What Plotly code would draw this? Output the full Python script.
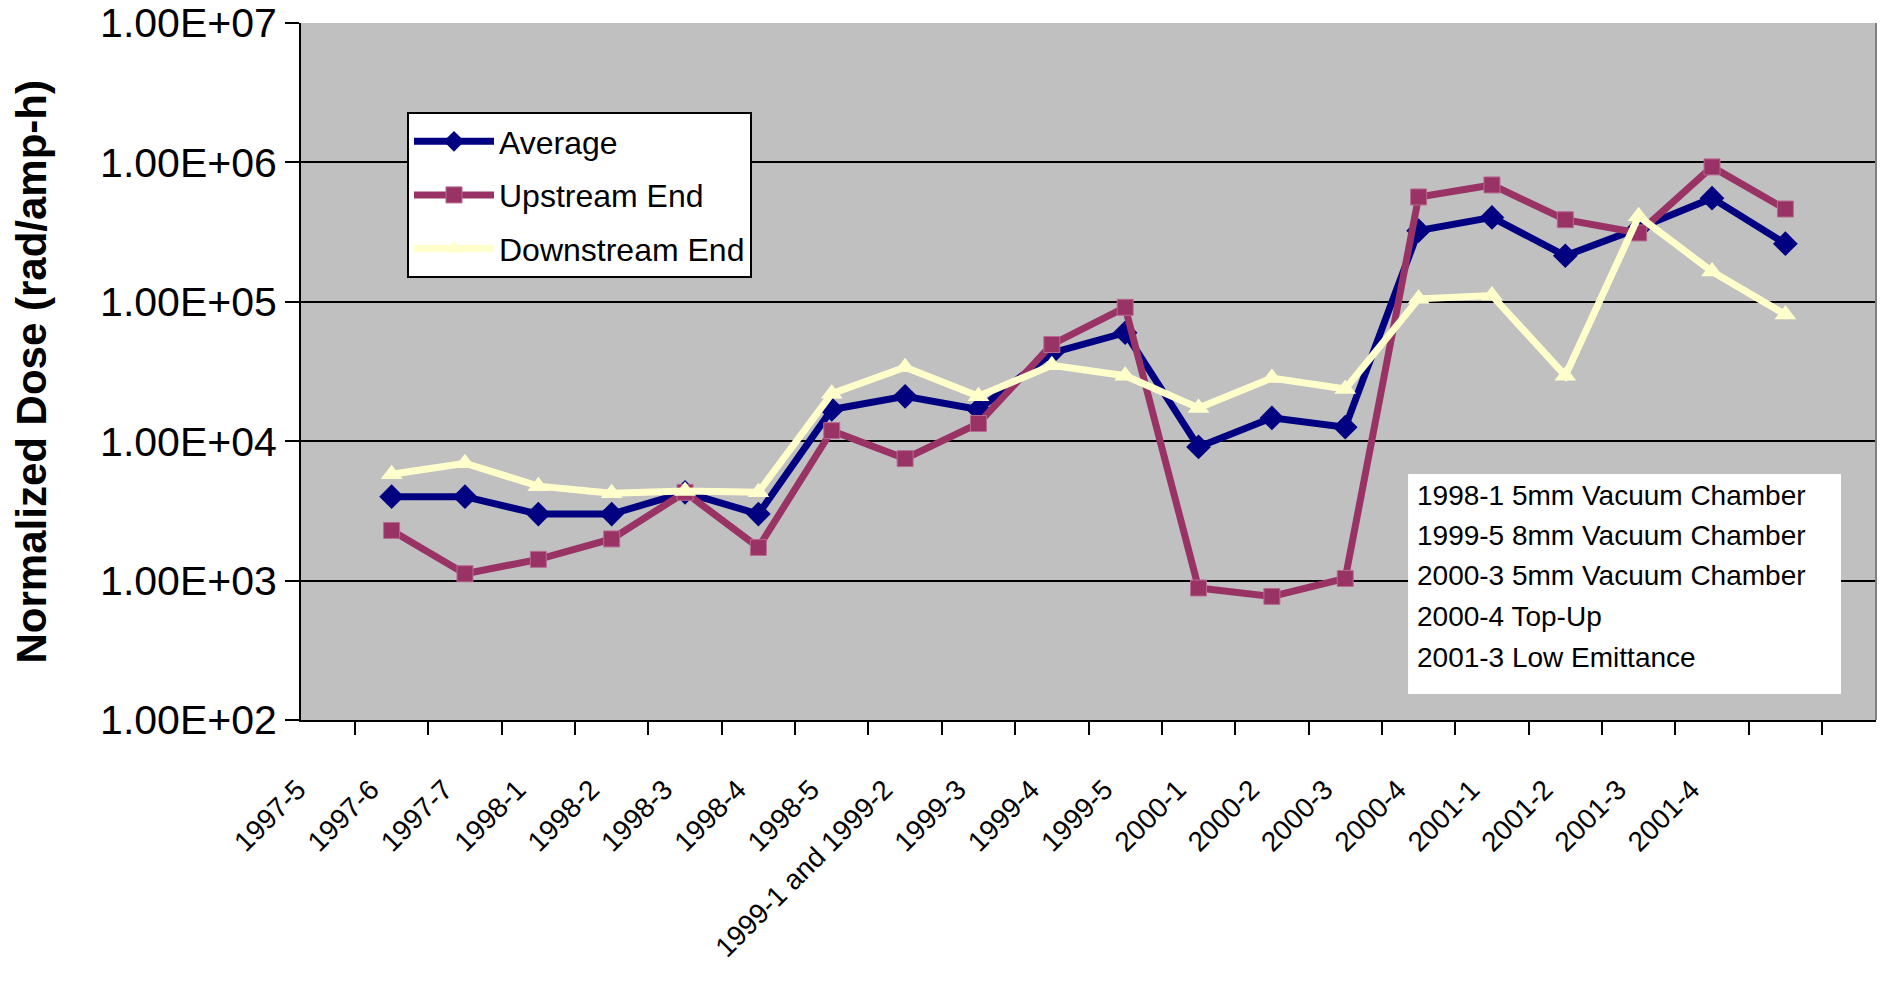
import plotly.graph_objects as go

categories = ["1997-5", "1997-6", "1997-7", "1998-1", "1998-2", "1998-3", "1998-4",
              "1998-5", "1999-1 and 1999-2", "1999-3", "1999-4", "1999-5", "2000-1",
              "2000-2", "2000-3", "2000-4", "2001-1", "2001-2", "2001-3", "2001-4"]

average = [4000, 4000, 3000, 3000, 4300, 3000, 16900, 21000, 16900, 43000, 60000,
           9100, 14700, 12600, 324000, 403000, 214000, 337000, 554000, 261000]
upstream = [2290, 1120, 1420, 1990, 4300, 1730, 11900, 7500, 13400, 49400, 91300,
            885, 770, 1036, 565000, 689000, 388000, 312000, 928000, 463000]
downstream = [5800, 6950, 4760, 4230, 4400, 4300, 21900, 33900, 21000, 35000, 29500,
              17300, 28400, 23700, 105000, 111000, 29500, 411000, 165000, 81000]

ytick_vals = [1e2, 1e3, 1e4, 1e5, 1e6, 1e7]
ytick_text = ["1.00E+02", "1.00E+03", "1.00E+04", "1.00E+05", "1.00E+06", "1.00E+07"]

notes = ["1998-1 5mm Vacuum Chamber", "1999-5 8mm Vacuum Chamber",
         "2000-3 5mm Vacuum Chamber", "2000-4 Top-Up", "2001-3 Low Emittance"]

FONT = "Arial, Liberation Sans, sans-serif"

fig = go.Figure()
fig.add_trace(go.Scatter(x=categories, y=average, name="Average", mode="lines+markers",
                         legendgroup="a",
                         line=dict(color="#000080", width=7),
                         marker=dict(symbol="diamond", size=19, color="#000080")))
fig.add_trace(go.Scatter(x=categories, y=upstream, name="Upstream End", mode="lines+markers",
                         legendgroup="b",
                         line=dict(color="#993366", width=7),
                         marker=dict(symbol="square", size=16, color="#993366",
                                     line=dict(color="#B86A90", width=1))))
fig.add_trace(go.Scatter(x=categories, y=downstream, name="Downstream End", mode="lines+markers",
                         legendgroup="c",
                         line=dict(color="#FFFFCC", width=7),
                         marker=dict(symbol="triangle-up", size=19, color="#FFFFCC")))

# Notes box
fig.add_shape(type="rect", xref="paper", yref="paper", x0=0.7029, x1=0.9778,
              y0=0.0373, y1=0.3529, fillcolor="white", line=dict(width=0), layer="above")
note_y = [0.3214, 0.2640, 0.2066, 0.1492, 0.0890]
for txt, yy in zip(notes, note_y):
    fig.add_annotation(text=txt, xref="paper", yref="paper", x=0.707, y=yy,
                       xanchor="left", yanchor="middle", showarrow=False,
                       font=dict(family=FONT, size=28, color="black"))

# right edge of plot area
fig.add_shape(type="line", xref="paper", yref="paper", x0=1, x1=1, y0=0, y1=1,
              line=dict(color="#808080", width=2), layer="above")

# y axis title
fig.add_annotation(text="<b>Normalized Dose (rad/amp-h)</b>", xref="paper", yref="paper",
                   x=-0.1708, y=0.5, textangle=-90, showarrow=False,
                   xanchor="center", yanchor="middle",
                   font=dict(family=FONT, size=42, color="black"))

fig.update_layout(
    width=1881, height=989,
    margin=dict(l=301, r=5, t=23, b=269, autoexpand=False),
    paper_bgcolor="white", plot_bgcolor="#C0C0C0",
    font=dict(family=FONT, color="black"),
    showlegend=True,
    legend=dict(x=0.0673, y=0.8723, xanchor="left", yanchor="top",
                bgcolor="white", bordercolor="black", borderwidth=2,
                font=dict(family=FONT, size=32, color="black"),
                tracegroupgap=9, itemwidth=80),
    xaxis=dict(type="category", tickson="boundaries", ticks="outside", ticklen=13,
               tickwidth=2, tickcolor="black", showline=True, linecolor="black",
               linewidth=2, showgrid=False, tickangle=-45, automargin=False,
               tickfont=dict(family=FONT, size=28, color="black"),
               ticklabelstandoff=40, ticklabelshift=-94),
    yaxis=dict(type="log", range=[2, 7], tickvals=ytick_vals, ticktext=ytick_text,
               ticks="outside", ticklen=14, tickwidth=2, tickcolor="black",
               showline=True, linecolor="black", linewidth=2, automargin=False,
               showgrid=True, gridcolor="black", gridwidth=2,
               ticklabeloverflow="allow",
               tickfont=dict(family=FONT, size=41, color="black")),
)

fig.write_html("out.html", config={"displayModeBar": False},
               post_script="document.body.style.margin='0';document.body.style.padding='0';")
